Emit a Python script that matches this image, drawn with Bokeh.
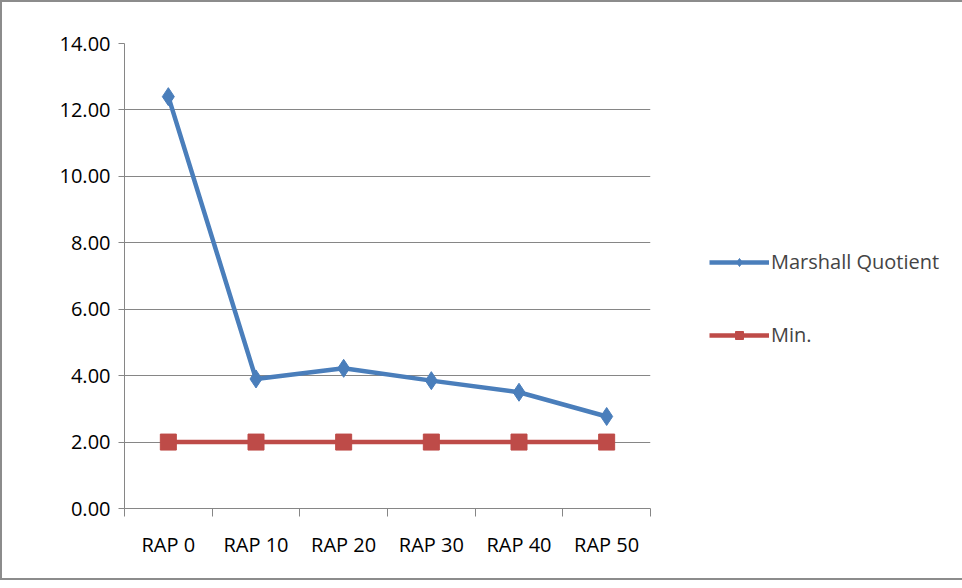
from bokeh.plotting import figure
from bokeh.models import FixedTicker, Legend, LegendItem, CustomJSTickFormatter, NumeralTickFormatter, Range1d
from bokeh.embed import file_html
from bokeh.resources import INLINE

categories = ["RAP 0", "RAP 10", "RAP 20", "RAP 30", "RAP 40", "RAP 50"]
marshall = [12.40, 3.90, 4.22, 3.85, 3.50, 2.77]
minimum = [2.00, 2.00, 2.00, 2.00, 2.00, 2.00]
y_ticks = [0, 2, 4, 6, 8, 10, 12, 14]

xs = [i + 0.5 for i in range(len(categories))]
FONT = "Open Sans"

p = figure(width=954, height=576, frame_width=526, frame_height=465,
           output_backend="svg", toolbar_location=None,
           x_range=Range1d(0, len(categories)), y_range=Range1d(0, 14),
           min_border_left=122, min_border_right=0, min_border_top=41, min_border_bottom=70)
p.outline_line_color = None
p.styles = {"border": "2px solid #8c8c8c"}

l1 = p.line(xs, marshall, line_color="#4a7ebb", line_width=4.5)
s1 = p.scatter(xs, marshall, marker="diamond", size=18, fill_color="#4a7ebb", line_color="#4a7ebb")
l2 = p.line(xs, minimum, line_color="#be4b48", line_width=4.5)
s2 = p.scatter(xs, minimum, marker="square", size=16, fill_color="#be4b48", line_color="#be4b48")

p.xaxis.ticker = FixedTicker(ticks=xs, minor_ticks=list(range(len(categories) + 1)))
p.xaxis.formatter = CustomJSTickFormatter(args=dict(cats=categories),
                                          code="return cats[Math.floor(tick)];")
p.xaxis.major_tick_line_color = None
p.xaxis.minor_tick_out = 8
p.xaxis.minor_tick_in = 0
p.xaxis.minor_tick_line_color = "#868686"
p.xaxis.axis_line_color = "#868686"
p.xaxis.major_label_standoff = 14

p.yaxis.ticker = FixedTicker(ticks=y_ticks)
p.yaxis.formatter = NumeralTickFormatter(format="0.00")
p.yaxis.minor_tick_line_color = None
p.yaxis.major_tick_out = 6
p.yaxis.major_tick_in = 0
p.yaxis.major_tick_line_color = "#868686"
p.yaxis.axis_line_color = "#868686"
p.yaxis.major_label_standoff = 8

for ax in (p.xaxis, p.yaxis):
    ax.major_label_text_font = FONT
    ax.major_label_text_font_size = "15pt"
    ax.major_label_text_color = "black"

p.xgrid.grid_line_color = None
p.ygrid.grid_line_color = "#868686"
p.ygrid.ticker = FixedTicker(ticks=y_ticks)

legend = Legend(items=[LegendItem(label="Marshall Quotient", renderers=[l1, s1]),
                       LegendItem(label="Min.", renderers=[l2, s2])],
                location=(59, 160), spacing=46, glyph_width=60, label_standoff=2,
                label_text_font=FONT, label_text_font_size="15pt",
                border_line_color=None, background_fill_alpha=0, margin=0, padding=0)
p.add_layout(legend, "right")

open("out.html", "w").write(file_html(p, INLINE))
